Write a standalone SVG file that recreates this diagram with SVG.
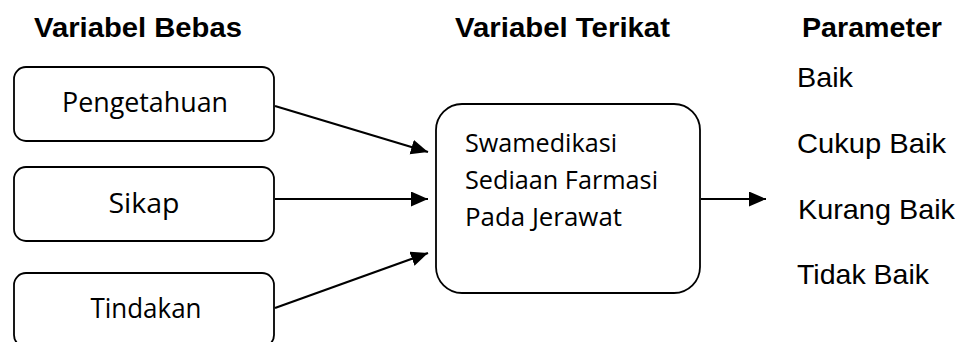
<svg xmlns="http://www.w3.org/2000/svg" width="963" height="342" viewBox="0 0 963 342">
<style>
.bg{fill:#fff}
.box{fill:#fff;stroke:#000;stroke-width:1.8}
.hd{font-family:"Liberation Sans",Arial,sans-serif;font-weight:bold;font-size:28.5px;fill:#000}
.pm{font-family:"Liberation Sans",Arial,sans-serif;font-size:28.5px;fill:#000}
.nt{font-family:"Open Sans","Noto Sans",sans-serif;font-size:28px;fill:#000}
.ct{font-family:"Open Sans","Noto Sans",sans-serif;font-size:26px;fill:#000}
.cn{stroke:#000;stroke-width:2.2;fill:none}
</style>
<defs>
<marker id="ah" markerUnits="userSpaceOnUse" markerWidth="18" markerHeight="16" refX="17" refY="7.5" orient="auto">
<path d="M0,0 L17,7.5 L0,15 z" fill="#000"/>
</marker>
</defs>
<rect class="bg" x="0" y="0" width="963" height="342"/>
<g id="headers">
<text class="hd" x="34" y="37" textLength="208" lengthAdjust="spacingAndGlyphs">Variabel Bebas</text>
<text class="hd" x="455" y="37" textLength="215" lengthAdjust="spacingAndGlyphs">Variabel Terikat</text>
<text class="hd" x="802" y="37" textLength="140" lengthAdjust="spacingAndGlyphs">Parameter</text>
</g>
<g id="n-pengetahuan">
<rect class="box" x="14" y="67" width="260" height="74" rx="12"/>
<text class="nt" x="145" y="112" text-anchor="middle" textLength="166" lengthAdjust="spacingAndGlyphs">Pengetahuan</text>
</g>
<g id="n-sikap">
<rect class="box" x="14" y="167" width="260" height="74" rx="12"/>
<text class="nt" x="144" y="213" text-anchor="middle" textLength="71" lengthAdjust="spacingAndGlyphs">Sikap</text>
</g>
<g id="n-tindakan">
<rect class="box" x="14" y="273" width="260" height="74" rx="12"/>
<text class="nt" x="146" y="318" text-anchor="middle" textLength="111" lengthAdjust="spacingAndGlyphs">Tindakan</text>
</g>
<g id="n-swamedikasi">
<rect class="box" x="436" y="104" width="264" height="189" rx="26"/>
<text class="ct" x="465" y="152" textLength="152" lengthAdjust="spacingAndGlyphs">Swamedikasi</text>
<text class="ct" x="465" y="189" textLength="193" lengthAdjust="spacingAndGlyphs">Sediaan Farmasi</text>
<text class="ct" x="465" y="226" textLength="157" lengthAdjust="spacingAndGlyphs">Pada Jerawat</text>
</g>
<g id="parameters">
<text class="pm" x="797" y="87" textLength="56" lengthAdjust="spacingAndGlyphs">Baik</text>
<text class="pm" x="797" y="153" textLength="149" lengthAdjust="spacingAndGlyphs">Cukup Baik</text>
<text class="pm" x="798" y="219" textLength="157" lengthAdjust="spacingAndGlyphs">Kurang Baik</text>
<text class="pm" x="797" y="284" textLength="132" lengthAdjust="spacingAndGlyphs">Tidak Baik</text>
</g>
<g id="connectors">
<line class="cn" x1="275" y1="106" x2="428" y2="152" marker-end="url(#ah)"/>
<line class="cn" x1="275" y1="199" x2="428" y2="199" marker-end="url(#ah)"/>
<line class="cn" x1="275" y1="308" x2="428" y2="253" marker-end="url(#ah)"/>
<line class="cn" x1="701" y1="199" x2="766" y2="199" marker-end="url(#ah)"/>
</g>
</svg>
